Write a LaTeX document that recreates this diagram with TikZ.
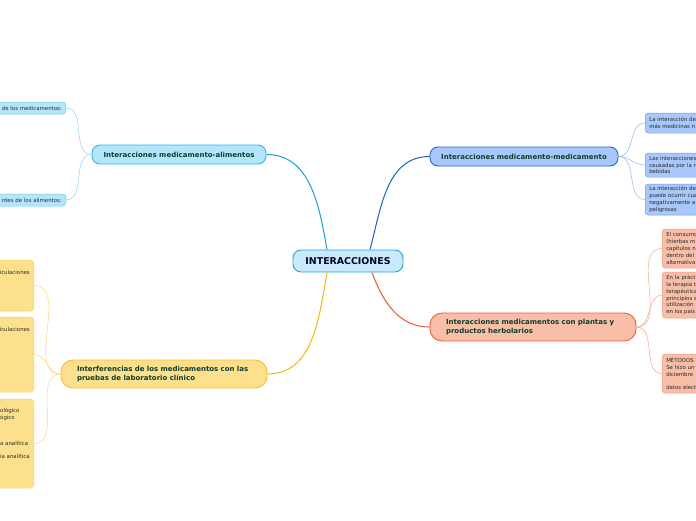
\documentclass[tikz,border=0pt]{standalone}
\usepackage{fontspec}
\setmainfont{DejaVu Sans}
\definecolor{txtgreen}{HTML}{0F3D2E}
\definecolor{subtxt}{HTML}{2A2A2A}
\definecolor{cfill}{HTML}{C9EAFB}
\definecolor{cdraw}{HTML}{2B9DE0}
\definecolor{afill}{HTML}{B3E6FB}
\definecolor{adraw}{HTML}{2EB5F0}
\definecolor{aline}{HTML}{129FE0}
\definecolor{asub}{HTML}{6CC8F5}
\definecolor{asubl}{HTML}{8FD3F7}
\definecolor{mfill}{HTML}{A8C7FA}
\definecolor{mdraw}{HTML}{1F66D9}
\definecolor{mline}{HTML}{1A5FCF}
\definecolor{msub}{HTML}{6F9FF0}
\definecolor{msubl}{HTML}{8AB3F3}
\definecolor{hfill}{HTML}{F8BEA8}
\definecolor{hdraw}{HTML}{EF5F35}
\definecolor{hline}{HTML}{F0552A}
\definecolor{hsub}{HTML}{F39A7A}
\definecolor{hsubl}{HTML}{F6A68A}
\definecolor{lfill}{HTML}{FDE08C}
\definecolor{ldraw}{HTML}{FBBF2A}
\definecolor{lline}{HTML}{FBB60C}
\definecolor{lsub}{HTML}{FCD36A}
\definecolor{lsubl}{HTML}{FDD87A}
\begin{document}
\begin{tikzpicture}[x=1pt,y=-1pt,
  topic/.style={draw, line width=0.9pt, font=\bfseries\fontsize{7}{8.8}\selectfont, text=txtgreen, inner sep=0pt},
  sub/.style={draw, rounded corners=3pt, line width=0.5pt, font=\fontsize{5.4}{6.9}\selectfont, text=subtxt, align=left, inner xsep=4pt, inner ysep=0pt},
  frag/.style={font=\fontsize{5.4}{6.9}\selectfont, text=subtxt, inner sep=0pt},
  conn/.style={line width=1pt},
  subconn/.style={line width=0.5pt}]
\useasboundingbox (0,0) rectangle (696,520);
\clip (0,0) rectangle (696,520);

% central
\node[draw=cdraw, fill=cfill, line width=0.9pt, rounded corners=8pt, minimum width=110pt, minimum height=22pt, inner sep=0pt,
  font=\bfseries\fontsize{9.4}{11}\selectfont, text=black!85!blue] (c) at (348,261) {INTERACCIONES};

% main topics
\node[topic, draw=adraw, fill=afill, rounded corners=8pt, minimum width=174pt, minimum height=19pt] (a) at (179,154.5) {Interacciones medicamento-alimentos};
\node[topic, draw=mdraw, fill=mfill, rounded corners=8pt, minimum width=188pt, minimum height=19pt] (m) at (524,156.5) {Interacciones medicamento-medicamento};
\node[topic, draw=hdraw, fill=hfill, rounded corners=12pt, text width=174pt, inner xsep=16pt, align=left, minimum height=28pt] (h) at (533,327) {Interacciones medicamentos con plantas y\\productos herbolarios};
\node[topic, draw=ldraw, fill=lfill, rounded corners=12pt, text width=174pt, inner xsep=16pt, align=left, minimum height=28pt] (l) at (164,374) {Interferencias de los medicamentos con las\\pruebas de laboratorio clínico};

% main connectors
\draw[conn, aline] ([xshift=-21pt]c.north) to[out=100,in=0] (a.east);
\draw[conn, mline] ([xshift=22pt]c.north) to[out=75,in=180] (m.west);
\draw[conn, lline] ([xshift=-21pt]c.south) to[out=-100,in=0] (l.east);
\draw[conn, hline] ([xshift=24pt]c.south) to[out=-70,in=180] (h.west);

% left cyan subtopics
\node[sub, draw=asub, fill=afill, minimum height=12pt, text width=82pt, align=right, anchor=east] (a1) at (66,108) {de los medicamentos:};
\node[sub, draw=asub, fill=afill, minimum height=12pt, text width=82pt, align=right, anchor=east] (a2) at (66,200) {ntes de los alimentos:};
\draw[subconn, asubl] (a.west) to[out=180,in=0] (a1.east);
\draw[subconn, asubl] (a.west) to[out=180,in=0] (a2.east);

% right blue subtopics
\node[sub, draw=msub, fill=mfill, text width=90pt, minimum height=20pt, anchor=west] (b1) at (645,123) {La interacción de\\más medicinas n};
\node[sub, draw=msub, fill=mfill, text width=90pt, minimum height=24pt, anchor=west] (b2) at (645,165) {Las interacciones\\causadas por la m\\bebidas};
\node[sub, draw=msub, fill=mfill, text width=90pt, minimum height=31pt, anchor=west] (b3) at (645,199.5) {La interacción de\\puede ocurrir cua\\negativamente a\\peligrosas};
\draw[subconn, msubl] (m.east) to[out=0,in=180] (b1.west);
\draw[subconn, msubl] (m.east) to[out=0,in=180] (b2.west);
\draw[subconn, msubl] (m.east) to[out=0,in=180] (b3.west);

% right salmon subtopics
\node[sub, draw=hsub, fill=hfill, text width=90pt, minimum height=39pt, anchor=west] (h1) at (662,248.5) {El consumo\\(hierbas m\\capítulos n\\dentro del\\alternativa};
\node[sub, draw=hsub, fill=hfill, text width=90pt, minimum height=46pt, anchor=west] (h2) at (662,295) {En la práct\\la terapia t\\terapéutica\\principios a\\utilización\\en los país};
\node[sub, draw=hsub, fill=hfill, text width=90pt, minimum height=39pt, anchor=west] (h3) at (662,373.5) {MÉTODOS\\Se hizo un\\diciembre\\[6.8pt]datos elect};
\draw[subconn, hsubl] (h.east) to[out=0,in=180] (h1.west);
\draw[subconn, hsubl] (h.east) to[out=0,in=180] (h2.west);
\draw[subconn, hsubl] (h.east) to[out=0,in=180] (h3.west);

% left yellow subtopics
\node[draw=lsub, fill=lfill, line width=0.5pt, rounded corners=3pt, minimum width=80pt, minimum height=51pt, anchor=east] (y1) at (34,285.5) {};
\node[draw=lsub, fill=lfill, line width=0.5pt, rounded corners=3pt, minimum width=80pt, minimum height=75pt, anchor=east] (y2) at (34,354.5) {};
\node[draw=lsub, fill=lfill, line width=0.5pt, rounded corners=3pt, minimum width=80pt, minimum height=89pt, anchor=east] (y3) at (34,443.5) {};
\node[frag, anchor=east] (t1) at (30,272) {iculaciones};
\node[frag, anchor=east] (t2) at (30,329) {iculaciones};
\node[frag, anchor=west] (t3) at (0,411) {ológico};
\node[frag, anchor=west] (t4) at (0,418) {ógico};
\node[frag, anchor=west] (t5) at (0,443) {a analítica};
\node[frag, anchor=west] (t6) at (0,456) {ia analítica};
\draw[subconn, lsubl] (l.west) to[out=180,in=0] (y1.east);
\draw[subconn, lsubl] (l.west) to[out=180,in=0] (y2.east);
\draw[subconn, lsubl] (l.west) to[out=180,in=0] (y3.east);
\end{tikzpicture}
\end{document}
